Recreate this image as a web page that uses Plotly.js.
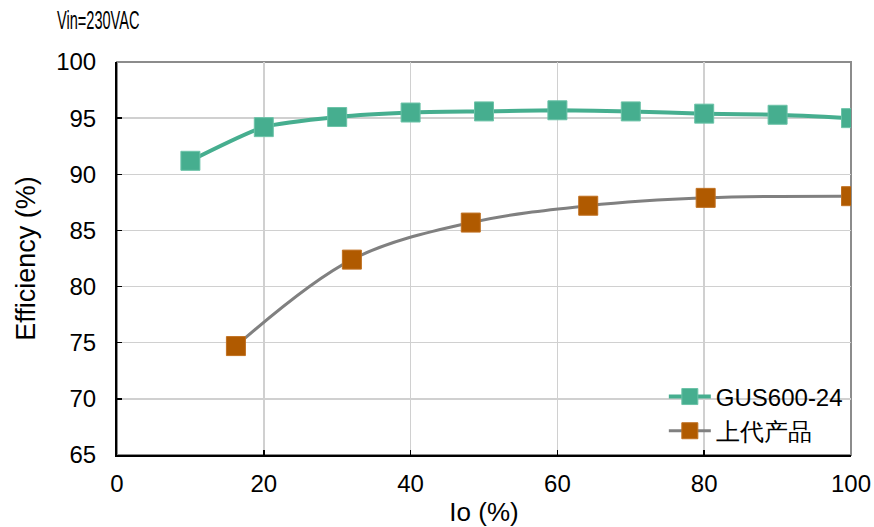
<!DOCTYPE html>
<html>
<head>
<meta charset="utf-8">
<script src="https://cdn.plot.ly/plotly-3.0.1.min.js"></script>
<style>html,body{margin:0;padding:0;background:#fff;}#chart{width:874px;height:527px;}</style>
</head>
<body>
<div id="chart"></div>
<script>
const newName = 'GUS600-24';
const newIo = [10, 20, 30, 40, 50, 60, 70, 80, 90, 100];
const newEff = [91.2, 94.2, 95.1, 95.5, 95.6, 95.7, 95.6, 95.4, 95.3, 95.0];
const oldName = '上代产品';
const oldIo = [16.2, 32, 48.2, 64.2, 80.2, 100];
const oldEff = [74.7, 82.4, 85.7, 87.2, 87.9, 88.05];
const xTicks = [0, 20, 40, 60, 80, 100];
const yTicks = [65, 70, 75, 80, 85, 90, 95, 100];
const noteText = 'Vin=230VAC';

const font = '"Liberation Sans", Arial, sans-serif';
const traces = [
  {x: newIo, y: newEff, name: newName, type: 'scatter', mode: 'lines+markers',
   line: {color: '#46ae8f', width: 4, shape: 'spline', smoothing: 0.6},
   marker: {symbol: 'square', size: 19, color: '#46ae8f', line: {color: '#6cc3a8', width: 1}}},
  {x: oldIo, y: oldEff, name: oldName, type: 'scatter', mode: 'lines+markers',
   line: {color: '#808080', width: 3, shape: 'spline', smoothing: 1},
   marker: {symbol: 'square', size: 19, color: '#b05a00', line: {color: '#c07020', width: 1}}}
];
const layout = {
  width: 874, height: 527,
  margin: {l: 117, r: 23, t: 62, b: 72},
  paper_bgcolor: '#fff', plot_bgcolor: '#fff',
  font: {family: font, color: '#000'},
  showlegend: true,
  legend: {x: 0.745, y: 0.205, xanchor: 'left', yanchor: 'top', bgcolor: 'rgba(0,0,0,0)',
           font: {size: 24, family: font, color: '#000'}, tracegroupgap: 0, itemwidth: 42},
  xaxis: {range: [0, 100], tickvals: xTicks, ticktext: xTicks.map(String),
          showgrid: true, gridcolor: '#d0d0d0', gridwidth: 1.5,
          showline: true, linecolor: '#000', linewidth: 2,
          ticks: 'inside', ticklen: 5, tickcolor: '#000', tickwidth: 1.5,
          ticklabelstandoff: 6,
          tickfont: {size: 24, family: font}, zeroline: false,
          title: {text: 'Io (%)', font: {size: 26, family: font}, standoff: 7}},
  yaxis: {range: [65, 100], tickvals: yTicks, ticktext: yTicks.map(String),
          showgrid: true, gridcolor: '#d0d0d0', gridwidth: 1.5,
          showline: true, linecolor: '#000', linewidth: 2,
          ticks: 'inside', ticklen: 5, tickcolor: '#000', tickwidth: 1.5,
          ticklabelstandoff: 14,
          tickfont: {size: 24, family: font}, zeroline: false,
          title: {text: 'Efficiency (%)', font: {size: 27, family: font}, standoff: 13}},
  shapes: [
    {type: 'rect', xref: 'paper', yref: 'paper', x0: 0, x1: 1, y0: 0, y1: 1,
     line: {color: '#8c8c8c', width: 2}, layer: 'below'}
  ],
  annotations: [
    {text: noteText, xref: 'paper', yref: 'paper', x: -0.085, y: 1.107, xanchor: 'left', yanchor: 'middle',
     showarrow: false, font: {size: 26, family: font, color: '#000'}}
  ]
};
Plotly.newPlot('chart', traces, layout, {displayModeBar: false, staticPlot: true}).then(function (gd) {
  const t = gd.querySelector('.annotation-text');
  if (t) {
    t.style.transformBox = 'fill-box';
    t.style.transformOrigin = 'left center';
    t.style.transform = 'scaleX(0.56)';
  }
});
</script>
</body>
</html>
